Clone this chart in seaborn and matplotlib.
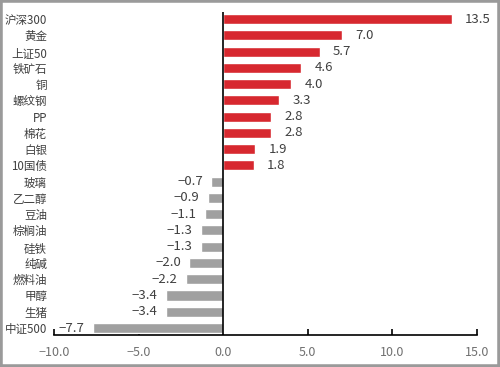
import matplotlib
matplotlib.use("Agg")
import matplotlib.pyplot as plt
import matplotlib.patches as mpatches
import seaborn as sns
import pandas as pd

categories = ["沪深300", "黄金", "上证50", "铁矿石", "铜", "螺纹钢", "PP", "棉花", "白银", "10国债",
              "玻璃", "乙二醇", "豆油", "棕榈油", "硅铁", "纯碱", "燃料油", "甲醇", "生猪", "中证500"]
values = [13.5, 7.0, 5.7, 4.6, 4.0, 3.3, 2.8, 2.8, 1.9, 1.8,
          -0.7, -0.9, -1.1, -1.3, -1.3, -2.0, -2.2, -3.4, -3.4, -7.7]
xticks = [-10, -5, 0, 5, 10, 15]

sns.set_theme(style="white")
plt.rcParams['font.family'] = ['Noto Sans CJK SC', 'DejaVu Sans']
plt.rcParams['axes.unicode_minus'] = False

df = pd.DataFrame({"cat": categories, "val": values})
df["sign"] = ["pos" if v >= 0 else "neg" for v in values]

fig = plt.figure(figsize=(5, 3.67), dpi=100)
ax = fig.add_axes([0.108, 0.0872, 0.846, 0.880])
sns.barplot(data=df, x="val", y="cat", hue="sign", orient="h",
            palette={"pos": "#D7282F", "neg": "#A0A0A0"}, width=0.62,
            dodge=False, legend=False, ax=ax, saturation=1)

ax.set_xlim(-10, 15)
ax.set_ylim(19.43, -0.43)
ax.set_xticks(xticks)
ax.set_xticklabels([f"{t:.1f}".replace("-", "−") for t in xticks], color="#707070", fontsize=9)
ax.set_xlabel("")
ax.set_ylabel("")
ax.tick_params(axis="y", length=0, labelsize=8.3, labelcolor="#404040", pad=5)
ax.tick_params(axis="x", direction="in", length=4, width=1.2, color="black", pad=8, bottom=True)
for s in ["top", "right", "left"]:
    ax.spines[s].set_visible(False)
ax.spines["bottom"].set_color("black")
ax.spines["bottom"].set_linewidth(1.2)
ax.axvline(0, color="black", lw=1.2, zorder=5)

for i, v in enumerate(values):
    txt = f"{v:.1f}".replace("-", "−")
    if v >= 0:
        ax.text(v + 0.8, i, txt, va="center", ha="left", fontsize=9.5, color="#404040")
    else:
        ax.text(v - 0.5, i, txt, va="center", ha="right", fontsize=9.5, color="#404040")

fig.patches.append(mpatches.Rectangle((0, 0), 1, 1, transform=fig.transFigure,
                                      fill=False, edgecolor="#9A9A9A", linewidth=4))
fig.savefig("out.png", dpi=100)
